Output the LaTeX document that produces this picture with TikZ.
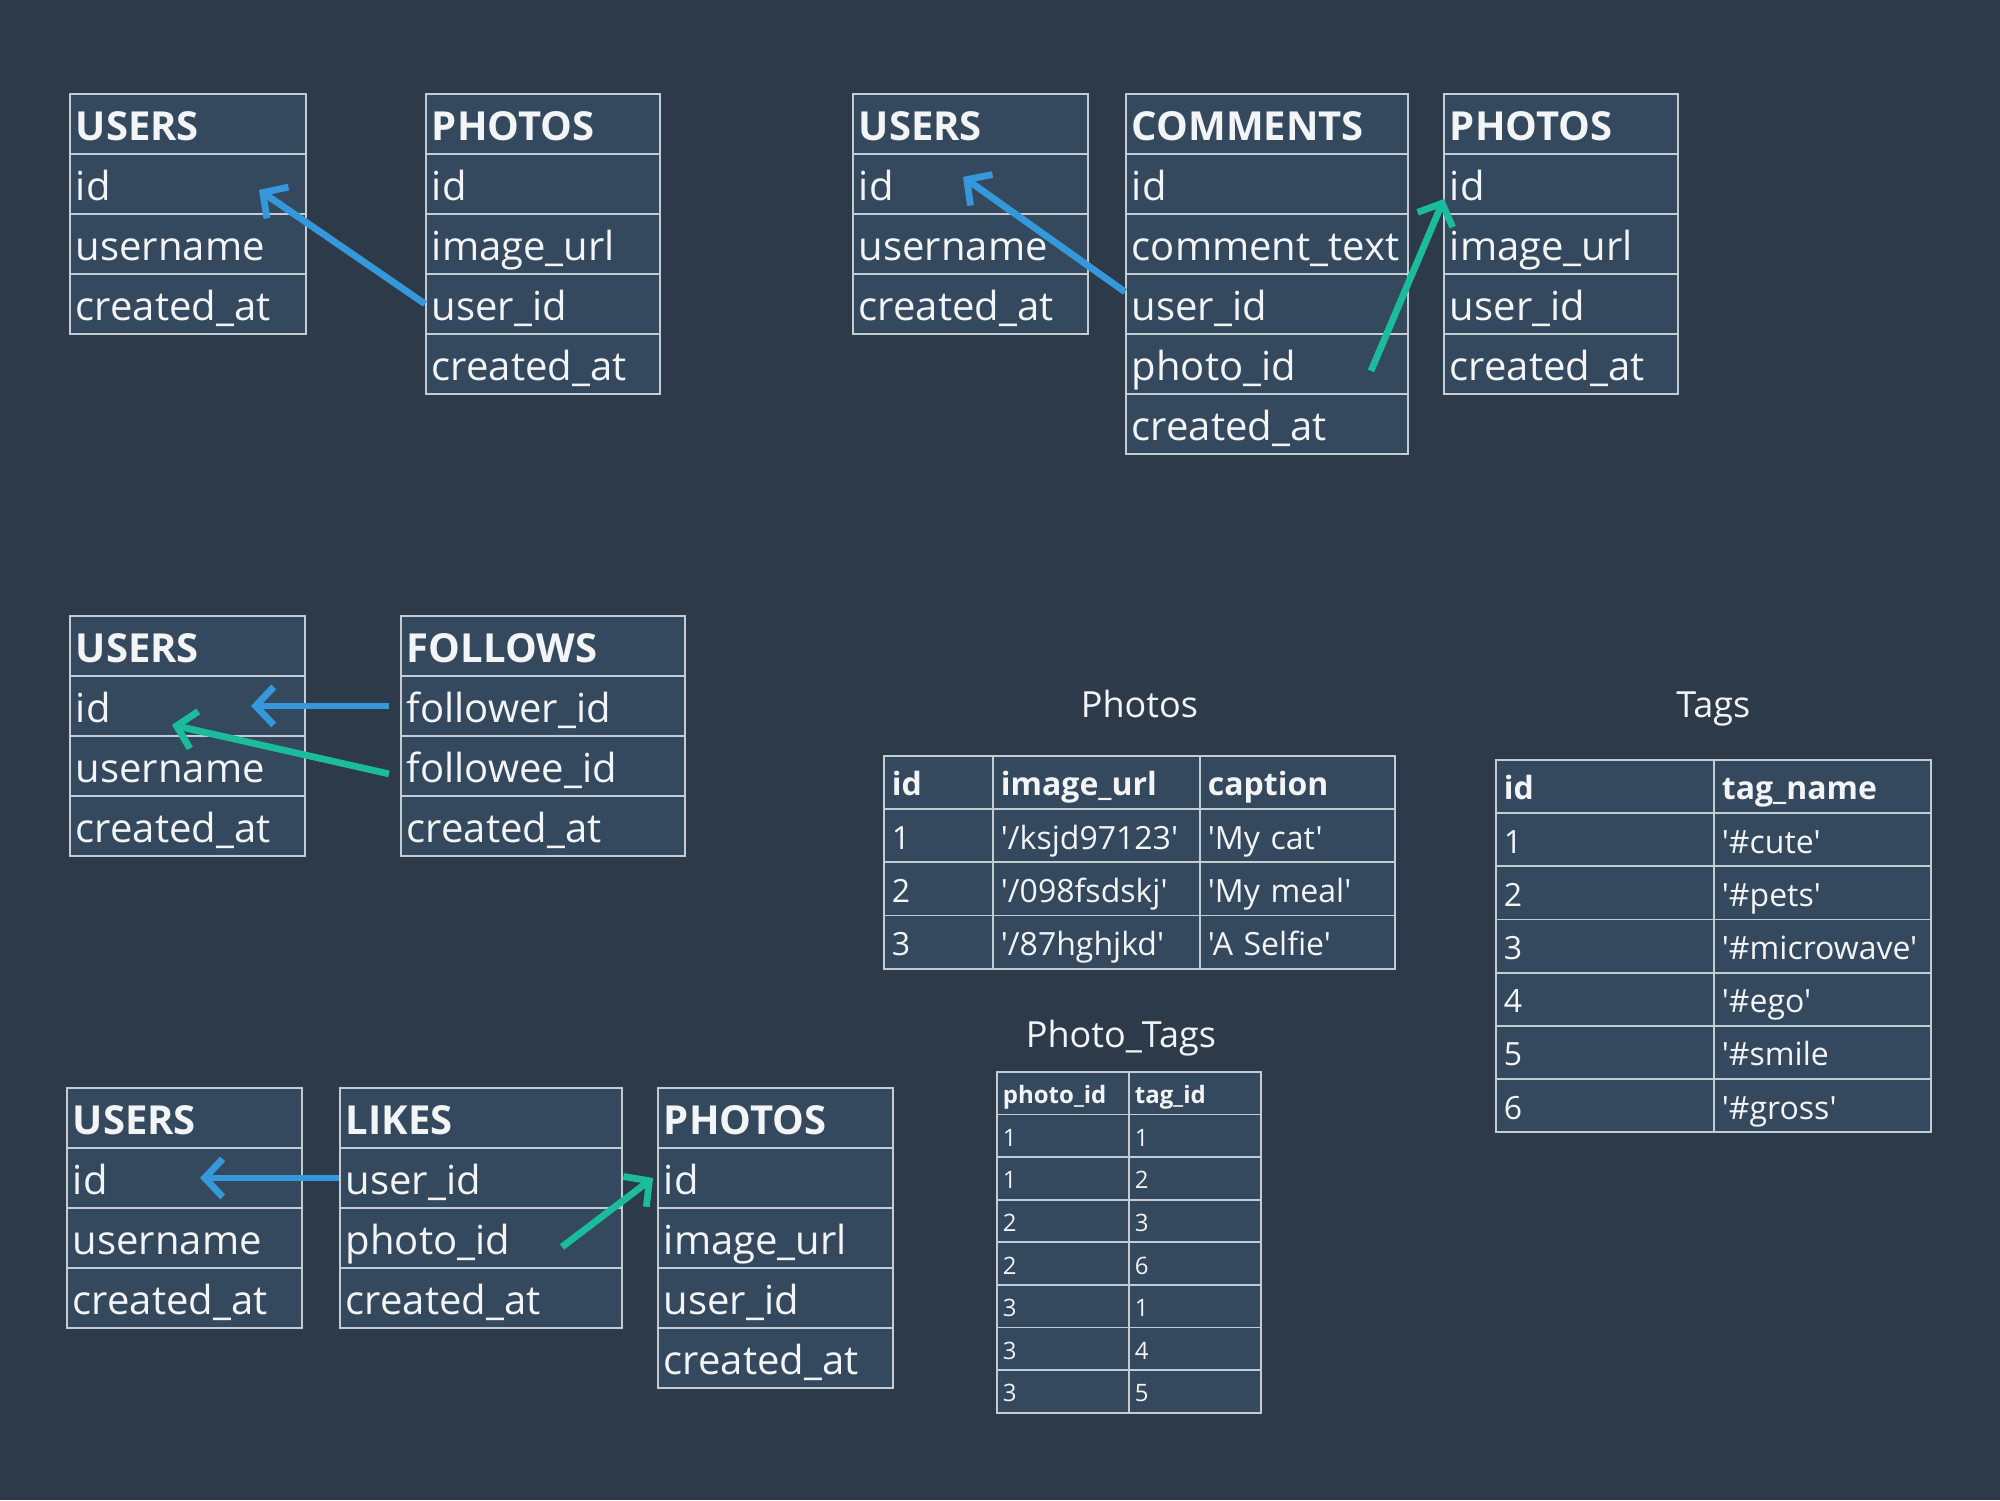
\documentclass[tikz,border=0pt]{standalone}
\usepackage{fontspec}
\setmainfont{Open Sans}[Ligatures=TeXOff]
\usetikzlibrary{arrows.meta,positioning,calc,matrix}
\definecolor{bgdark}{HTML}{2C3A4A}
\definecolor{cellfill}{HTML}{34495E}
\definecolor{gridline}{HTML}{C3CBD3}
\definecolor{fkblue}{HTML}{3498DB}
\definecolor{fkteal}{HTML}{1ABC9C}
\definecolor{txt}{HTML}{F2F4F5}
\newcommand{\efont}{\fontsize{20}{24}\selectfont}
\newcommand{\dfont}{\fontsize{16}{19}\selectfont}
\newcommand{\ptfont}{\fontsize{12}{14}\selectfont}
\tikzset{
  ecell/.style={draw=gridline,line width=0.9pt,fill=cellfill,text=txt,font=\efont,align=left,
                minimum height=30pt,inner xsep=3pt,inner ysep=0pt,text height=19pt,text depth=2pt},
  ehead/.style={ecell,font=\efont\bfseries},
  dcell/.style={draw=gridline,line width=0.9pt,fill=cellfill,text=txt,font=\dfont,align=left,
                minimum height=26.6pt,inner xsep=4pt,inner ysep=0pt,text height=14pt,text depth=0.6pt},
  ptcell/.style={font=\ptfont,minimum height=21.3pt,inner xsep=3pt,text height=11pt,text depth=0.5pt},
  dtab/.style={matrix of nodes,anchor=north west,inner sep=0pt,outer sep=0pt,
               row sep=-0.9pt,column sep=-0.9pt,nodes={dcell}},
  ttl/.style={text=txt,font=\fontsize{18}{21}\selectfont,inner sep=0pt,text height=13pt,text depth=4pt},
  arrb/.style={fkblue,line width=3.4pt,-{Straight Barb[length=9pt,width=19pt]}},
  arrt/.style={arrb,fkteal},
}
% entity box: name, x, y, width (px), title, fields
\newcommand{\entity}[6]{%
  \pgfmathsetlengthmacro{\ew}{#4*0.5pt}%
  \pgfmathsetlengthmacro{\tw}{#4*0.5pt-6pt}%
  \node[ehead,minimum width=\ew,text width=\tw,anchor=north west] (#1-0) at (#2,#3) {#5};
  \foreach \f [count=\i,remember=\i as \j (initially 0)] in {#6}
    \node[ecell,minimum width=\ew,text width=\tw,below=-0.9pt of #1-\j] (#1-\i) {\f};
}
\begin{document}
\begin{tikzpicture}[x=0.5pt,y=-0.5pt]
  \path[use as bounding box,fill=bgdark] (0,0) rectangle (2000,1500);

  % users -- photos
  \entity{ua}{69}{93}{236}{USERS}{id,username,created\_at}
  \entity{pa}{425}{93}{234}{PHOTOS}{id,image\_url,user\_id,created\_at}
  \draw[arrb] (pa-3.west) -- ($(ua-1.west)+(190,6)$);

  % users -- comments -- photos
  \entity{ub}{852}{93}{235}{USERS}{id,username,created\_at}
  \entity{cb}{1125}{93}{282}{COMMENTS}{id,comment\_text,user\_id,photo\_id,created\_at}
  \entity{pb}{1443}{93}{234}{PHOTOS}{id,image\_url,user\_id,created\_at}
  \draw[arrb] ($(cb-3.west)+(0,-12)$) -- ($(ub-1.west)+(111,-7)$);
  \draw[arrt] ($(cb-4.west)+(246,7)$) -- ($(pb-1.west)+(1,15)$);

  % users -- follows
  \entity{uc}{69}{615}{235}{USERS}{id,username,created\_at}
  \entity{fc}{400}{615}{284}{FOLLOWS}{follower\_id,followee\_id,created\_at}
  \draw[arrb] ($(fc-1.west)+(-11,0)$) -- ($(uc-1.west)+(182,0)$);
  \draw[arrt] ($(fc-2.west)+(-11,8)$) -- ($(uc-1.west)+(103,19)$);

  % users -- likes -- photos
  \entity{ud}{66}{1087}{235}{USERS}{id,username,created\_at}
  \entity{ld}{339}{1087}{282}{LIKES}{user\_id,photo\_id,created\_at}
  \entity{pd}{657}{1087}{235}{PHOTOS}{id,image\_url,user\_id,created\_at}
  \draw[arrb] (ld-1.west) -- ($(ud-1.west)+(134,0)$);
  \draw[arrt] ($(ld-2.west)+(223,9)$) -- ($(pd-1.west)+(-4,0)$);

  % sample data
  \matrix (phtab) [dtab,row 1/.style={nodes={font=\dfont\bfseries}},
    column 1/.style={nodes={text width=46.5pt}},column 2/.style={nodes={text width=95.5pt}},
    column 3/.style={nodes={text width=89.5pt}}] at (883,755) {
    id & image\_url & caption \\
    1 & '/ksjd97123' & 'My cat' \\
    2 & '/098fsdskj' & 'My meal' \\
    3 & '/87hghjkd' & 'A Selfie' \\
  };
  \node[ttl,above=14.4pt of phtab] (phttl) {Photos};

  \matrix (tgtab) [dtab,row 1/.style={nodes={font=\dfont\bfseries}},
    column 1/.style={nodes={text width=101pt}},column 2/.style={nodes={text width=100.5pt}}] at (1495,759) {
    id & tag\_name \\
    1 & '\#cute' \\
    2 & '\#pets' \\
    3 & '\#microwave' \\
    4 & '\#ego' \\
    5 & '\#smile \\
    6 & '\#gross' \\
  };
  \node[ttl,above=16.4pt of tgtab] (tgttl) {Tags};

  \matrix (pttab) [dtab,nodes={ptcell,text width=60pt},row 1/.style={nodes={font=\ptfont\bfseries}}] at (996,1071) {
    photo\_id & tag\_id \\
    1 & 1 \\
    1 & 2 \\
    2 & 3 \\
    2 & 6 \\
    3 & 1 \\
    3 & 4 \\
    3 & 5 \\
  };
  \node[ttl,above=7.8pt of pttab,xshift=-4pt] (ptttl) {Photo\_Tags};
\end{tikzpicture}
\end{document}
